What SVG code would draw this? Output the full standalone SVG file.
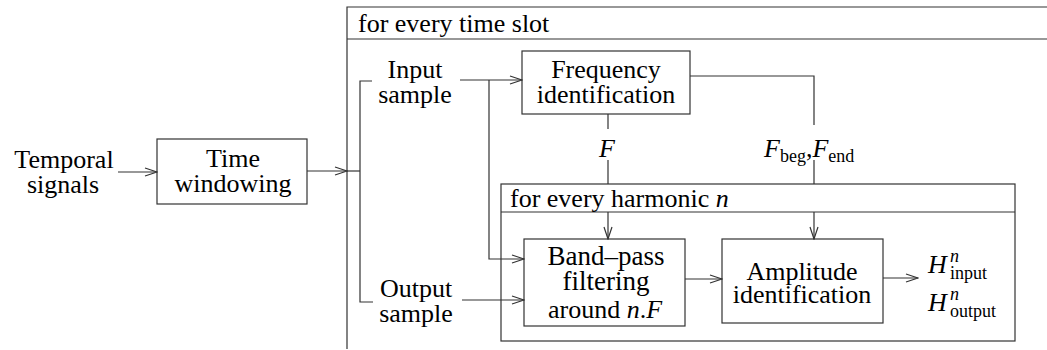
<svg xmlns="http://www.w3.org/2000/svg" width="1047" height="350" viewBox="0 0 1047 350" font-family="'Liberation Serif', 'DejaVu Serif', serif" font-size="26">
<style>
.box{fill:none;stroke:#333;stroke-width:1.2}
.ln{fill:none;stroke:#333;stroke-width:1.2}
</style>
<defs>
<marker id="arr" markerUnits="userSpaceOnUse" markerWidth="14" markerHeight="12" refX="13" refY="6" orient="auto">
<path d="M1 2 L13 6 L1 10" fill="none" stroke="#333" stroke-width="1.2"/>
</marker>
</defs>
<g id="frame-timeslot">
<path class="ln" d="M347 349 V7 H1047 M347 39 H1047"/>
<text x="358" y="32">for every time slot</text>
</g>
<g id="frame-harmonic">
<rect class="box" x="501" y="184" width="514" height="157"/>
<path class="ln" d="M501 212 H1015"/>
<text x="510" y="207">for every harmonic <tspan font-style="italic">n</tspan></text>
</g>
<g id="temporal-signals" text-anchor="middle">
<text x="64" y="168">Temporal</text>
<text x="63" y="193">signals</text>
</g>
<g id="time-windowing" text-anchor="middle">
<rect class="box" x="157" y="139" width="150" height="65"/>
<text x="233" y="167">Time</text>
<text x="233" y="192">windowing</text>
</g>
<g id="input-sample" text-anchor="middle">
<text x="415" y="78">Input</text>
<text x="415" y="103">sample</text>
</g>
<g id="output-sample" text-anchor="middle">
<text x="416" y="297">Output</text>
<text x="416" y="322">sample</text>
</g>
<g id="frequency-identification" text-anchor="middle">
<rect class="box" x="522" y="51" width="168" height="63"/>
<text x="606" y="78">Frequency</text>
<text x="606" y="103">identification</text>
</g>
<g id="label-F">
<text font-style="italic" x="599" y="157">F</text>
</g>
<g id="label-Fbeg-Fend">
<text x="764" y="157"><tspan font-style="italic">F</tspan><tspan font-size="18" dy="5">beg</tspan><tspan dy="-5">,</tspan><tspan font-style="italic">F</tspan><tspan font-size="18" dy="5">end</tspan></text>
</g>
<g id="band-pass-filtering" text-anchor="middle">
<rect class="box" x="524" y="239" width="161" height="87"/>
<text font-size="27" x="606" y="265">Band&#8211;pass</text>
<text font-size="27" x="606" y="290">filtering</text>
<text x="605" y="318">around <tspan font-style="italic">n</tspan>.<tspan font-style="italic">F</tspan></text>
</g>
<g id="amplitude-identification" text-anchor="middle">
<rect class="box" x="722" y="239" width="161" height="84"/>
<text x="802" y="280">Amplitude</text>
<text x="802" y="303">identification</text>
</g>
<g id="outputs-H">
<text font-style="italic" x="928" y="273">H</text>
<text font-style="italic" font-size="18" x="950" y="262">n</text>
<text font-size="18" x="950" y="279">input</text>
<text font-style="italic" x="928" y="311">H</text>
<text font-style="italic" font-size="18" x="950" y="300">n</text>
<text font-size="18" x="950" y="317">output</text>
</g>
<g id="connectors" fill="none" stroke="#333" stroke-width="1.2">
<path marker-end="url(#arr)" d="M118 172 H157"/>
<path marker-end="url(#arr)" d="M307 171 H347"/>
<path d="M347 171 H360"/>
<path d="M372 81 H360 V302 H373"/>
<path marker-end="url(#arr)" d="M460 80 H522"/>
<path marker-end="url(#arr)" d="M489 80 V259 H524"/>
<path marker-end="url(#arr)" d="M462 300 H524"/>
<path d="M608 114 V129 M608 160 V184"/>
<path marker-end="url(#arr)" d="M608 212 V239"/>
<path d="M690 76 H814 V125 M814 160 V184"/>
<path marker-end="url(#arr)" d="M814 212 V239"/>
<path marker-end="url(#arr)" d="M685 279 H722"/>
<path marker-end="url(#arr)" d="M883 278 H918"/>
</g>
</svg>
